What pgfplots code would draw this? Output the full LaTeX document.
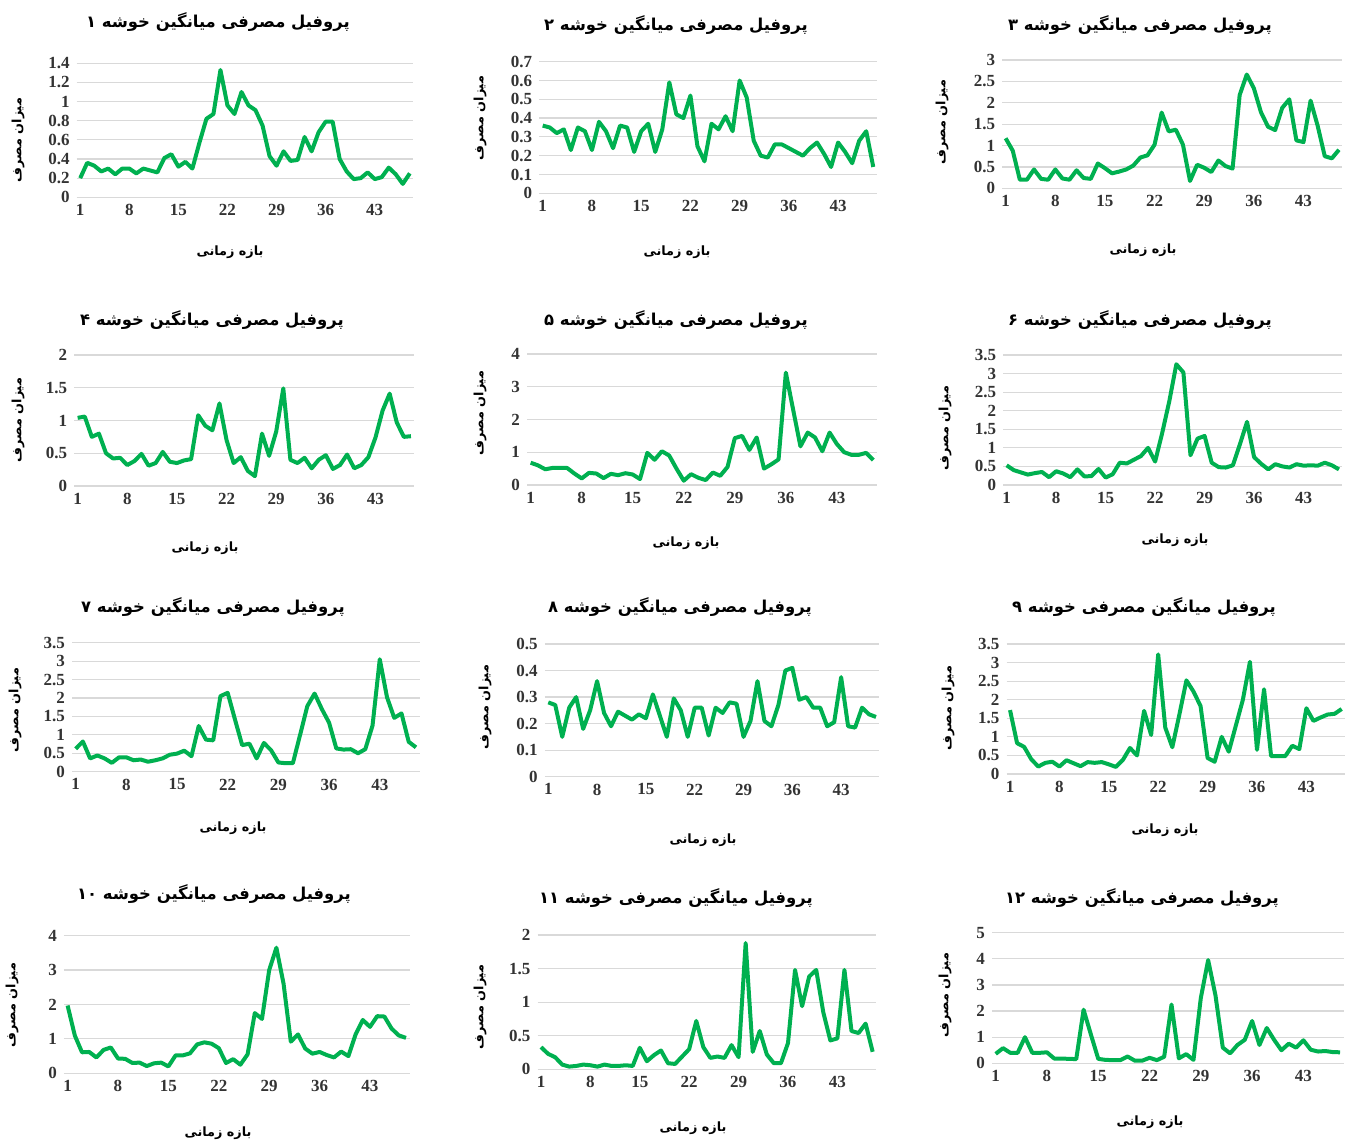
\documentclass[border=0pt]{standalone}
\usepackage{fontspec}
\usepackage{pgfplots}
\usepackage{pgfplotstable}
\pgfplotsset{compat=1.18}
\setmainfont{Liberation Serif}
\newfontfamily\fa[Script=Arabic]{DejaVu Sans}
\TeXXeTstate=1
\definecolor{lgreen}{HTML}{00B050}
\definecolor{gridc}{HTML}{D9D9D9}
\definecolor{tickc}{HTML}{333333}

\newcommand{\ftitle}{\fa\bfseries\fontsize{8.2}{8.2}\selectfont}
\newcommand{\flabel}{\fa\bfseries\fontsize{6.4}{6.4}\selectfont}

\pgfplotstableread{
i c1 c2 c3 c4 c5 c6 c7 c8 c9 c10 c11 c12
1 0.20 0.36 1.17 1.04 0.68 0.53 0.62 0.28 1.72 1.97 0.33 0.36
2 0.36 0.35 0.88 1.06 0.60 0.40 0.82 0.27 0.83 1.10 0.23 0.58
3 0.33 0.32 0.20 0.75 0.48 0.34 0.36 0.15 0.73 0.61 0.18 0.40
4 0.27 0.34 0.20 0.80 0.52 0.28 0.44 0.26 0.40 0.62 0.07 0.40
5 0.30 0.23 0.44 0.50 0.52 0.32 0.36 0.30 0.20 0.46 0.04 1.00
6 0.24 0.35 0.22 0.42 0.52 0.35 0.24 0.18 0.30 0.68 0.05 0.40
7 0.30 0.33 0.20 0.43 0.35 0.21 0.39 0.25 0.33 0.75 0.07 0.40
8 0.30 0.23 0.44 0.32 0.20 0.37 0.39 0.36 0.20 0.43 0.06 0.42
9 0.25 0.38 0.23 0.38 0.37 0.31 0.31 0.24 0.37 0.42 0.04 0.18
10 0.30 0.33 0.20 0.49 0.35 0.21 0.33 0.19 0.29 0.30 0.07 0.18
11 0.28 0.24 0.42 0.31 0.21 0.42 0.27 0.245 0.21 0.31 0.05 0.17
12 0.26 0.36 0.24 0.35 0.34 0.23 0.31 0.23 0.32 0.21 0.05 0.16
13 0.41 0.35 0.22 0.52 0.30 0.24 0.36 0.215 0.30 0.29 0.06 2.05
14 0.45 0.22 0.58 0.37 0.36 0.43 0.46 0.235 0.32 0.31 0.05 1.10
15 0.32 0.33 0.47 0.35 0.32 0.20 0.49 0.22 0.26 0.20 0.32 0.17
16 0.37 0.37 0.35 0.39 0.18 0.29 0.57 0.31 0.19 0.52 0.12 0.13
17 0.30 0.22 0.39 0.41 0.98 0.60 0.42 0.23 0.38 0.52 0.21 0.12
18 0.57 0.34 0.44 1.08 0.77 0.58 1.24 0.15 0.70 0.58 0.28 0.12
19 0.82 0.59 0.53 0.92 1.03 0.68 0.87 0.295 0.50 0.84 0.09 0.26
20 0.87 0.42 0.72 0.85 0.90 0.78 0.85 0.25 1.70 0.90 0.08 0.10
21 1.33 0.40 0.77 1.26 0.50 1.00 2.05 0.15 1.05 0.86 0.19 0.10
22 0.96 0.52 1.02 0.70 0.13 0.63 2.14 0.26 3.22 0.73 0.30 0.21
23 0.87 0.25 1.77 0.35 0.33 1.40 1.42 0.26 1.25 0.30 0.72 0.12
24 1.10 0.17 1.33 0.44 0.22 2.25 0.72 0.155 0.72 0.41 0.33 0.25
25 0.96 0.37 1.37 0.23 0.15 3.25 0.76 0.26 1.60 0.25 0.17 2.25
26 0.91 0.34 1.02 0.15 0.38 3.03 0.36 0.24 2.52 0.55 0.19 0.19
27 0.75 0.41 0.17 0.80 0.28 0.80 0.78 0.28 2.22 1.75 0.17 0.35
28 0.43 0.33 0.55 0.46 0.55 1.25 0.58 0.275 1.83 1.58 0.36 0.13
29 0.33 0.60 0.48 0.83 1.43 1.32 0.25 0.15 0.43 3.00 0.18 2.50
30 0.48 0.51 0.38 1.49 1.50 0.60 0.23 0.21 0.33 3.65 1.88 3.95
31 0.38 0.28 0.65 0.40 1.07 0.48 0.23 0.36 1.00 2.60 0.26 2.60
32 0.39 0.20 0.52 0.35 1.45 0.47 1.00 0.21 0.60 0.92 0.57 0.60
33 0.63 0.19 0.46 0.43 0.50 0.53 1.78 0.19 1.30 1.13 0.22 0.38
34 0.48 0.26 2.18 0.27 0.63 1.10 2.12 0.27 2.00 0.72 0.09 0.70
35 0.68 0.26 2.66 0.40 0.78 1.70 1.70 0.40 3.02 0.57 0.09 0.90
36 0.79 0.24 2.34 0.47 3.43 0.75 1.33 0.41 0.65 0.62 0.39 1.62
37 0.79 0.22 1.78 0.26 2.30 0.57 0.63 0.29 2.28 0.53 1.48 0.70
38 0.40 0.20 1.44 0.32 1.18 0.42 0.60 0.30 0.48 0.46 0.94 1.35
39 0.27 0.24 1.36 0.48 1.60 0.56 0.61 0.26 0.48 0.63 1.38 0.90
40 0.19 0.27 1.88 0.27 1.45 0.50 0.50 0.26 0.48 0.50 1.48 0.50
41 0.20 0.21 2.08 0.32 1.03 0.47 0.61 0.19 0.76 1.13 0.85 0.75
42 0.26 0.14 1.12 0.44 1.60 0.56 1.25 0.205 0.67 1.55 0.43 0.60
43 0.19 0.27 1.08 0.74 1.25 0.52 3.05 0.375 1.77 1.35 0.46 0.88
44 0.21 0.22 2.05 1.15 1.00 0.53 2.02 0.19 1.43 1.66 1.48 0.52
45 0.31 0.16 1.46 1.41 0.92 0.52 1.46 0.185 1.52 1.65 0.57 0.45
46 0.24 0.28 0.75 0.97 0.92 0.60 1.58 0.26 1.60 1.30 0.54 0.47
47 0.14 0.33 0.70 0.75 0.98 0.53 0.81 0.235 1.62 1.10 0.68 0.43
48 0.25 0.14 0.90 0.76 0.76 0.42 0.66 0.225 1.75 1.03 0.26 0.42
}\data

\pgfplotsset{clus/.style={
  scale only axis, anchor=south west,
  xmin=0.5, xmax=48.5, ymin=0,
  xtick={1,8,15,22,29,36,43},
  axis line style={draw=none}, major tick length=0pt,
  ymajorgrids, grid style={gridc, line width=0.6pt},
  tick label style={font=\bfseries\fontsize{8.5}{9}\selectfont, text=tickc},
  /pgf/number format/assume math mode=true,
  clip=false,
}}

% #1 x, #2 y, #3 width, #4 height, #5 ymax, #6 yticks, #7 column
\newcommand{\clusterplot}[7]{%
  \begin{axis}[clus, at={(#1pt,#2pt)}, width=#3pt, height=#4pt, ymax=#5, ytick={#6}]
    \addplot[lgreen, line width=2pt, line join=round] table[x=i, y=#7] {\data};
  \end{axis}}

\begin{document}
\begin{tikzpicture}
\useasboundingbox (0,0) rectangle (673pt,572.5pt);

\clusterplot{38.35}{473.85}{168.3}{67}{1.4}{0,0.2,0.4,0.6,0.8,1,1.2,1.4}{c1}
\clusterplot{269.6}{475.85}{168.8}{65.8}{0.7}{0,0.1,0.2,0.3,0.4,0.5,0.6,0.7}{c2}
\clusterplot{501.05}{478.35}{170.2}{64.15}{3}{0,0.5,1,1.5,2,2.5,3}{c3}
\clusterplot{37.05}{329.5}{170.2}{65.5}{2}{0,0.5,1,1.5,2}{c4}
\clusterplot{263.5}{330}{175}{65.5}{4}{0,1,2,3,4}{c5}
\clusterplot{501.55}{330}{169.7}{65}{3.5}{0,0.5,1,1.5,2,2.5,3,3.5}{c6}
\clusterplot{36}{186.65}{173.8}{64.5}{3.5}{0,0.5,1,1.5,2,2.5,3,3.5}{c7}
\clusterplot{272.4}{184.15}{167.35}{66.35}{0.5}{0,0.1,0.2,0.3,0.4,0.5}{c8}
\clusterplot{503.25}{185.5}{169.35}{65}{3.5}{0,0.5,1,1.5,2,2.5,3,3.5}{c9}
\clusterplot{32}{35.85}{172.8}{68.8}{4}{0,1,2,3,4}{c10}
\clusterplot{268.75}{37.85}{169.35}{67.15}{2}{0,0.5,1,1.5,2}{c11}
\clusterplot{496}{40.85}{175.85}{65.3}{5}{0,1,2,3,4,5}{c12}

% titles
\node at (109pt,561.5pt) {\ftitle\beginR پروفیل مصرفی میانگین خوشه ۱\endR};
\node at (338pt,560pt) {\ftitle\beginR پروفیل مصرفی میانگین خوشه ۲\endR};
\node at (570pt,560pt) {\ftitle\beginR پروفیل مصرفی میانگین خوشه ۳\endR};
\node at (106pt,412.5pt) {\ftitle\beginR پروفیل مصرفی میانگین خوشه ۴\endR};
\node at (338pt,412.5pt) {\ftitle\beginR پروفیل مصرفی میانگین خوشه ۵\endR};
\node at (570pt,412.5pt) {\ftitle\beginR پروفیل مصرفی میانگین خوشه ۶\endR};
\node at (106.5pt,269pt) {\ftitle\beginR پروفیل مصرفی میانگین خوشه ۷\endR};
\node at (340pt,269pt) {\ftitle\beginR پروفیل مصرفی میانگین خوشه ۸\endR};
\node at (572pt,269pt) {\ftitle\beginR پروفیل میانگین مصرفی خوشه ۹\endR};
\node at (107pt,125.5pt) {\ftitle\beginR پروفیل مصرفی میانگین خوشه \beginL ۱۰\endL\endR};
\node at (338pt,123.5pt) {\ftitle\beginR پروفیل میانگین مصرفی خوشه \beginL ۱۱\endL\endR};
\node at (571pt,123.5pt) {\ftitle\beginR پروفیل مصرفی میانگین خوشه \beginL ۱۲\endL\endR};

% x labels
\foreach \x/\y in {115/446.5, 338.5/446.5, 571.5/447.5, 102.5/298.5, 343/301, 587.5/302.5,
                   116.5/158.5, 351.5/152.5, 582.5/157.5, 109/6, 346.5/8.5, 575/11.5}
  \node at (\x pt,\y pt) {\flabel\beginR بازه زمانی\endR};

% y labels
\foreach \x/\y in {9/502.5, 240/513.5, 471/511.5, 9/362.5, 240/366, 472.5/358.5,
                   7.5/217.5, 242.5/219, 474/218.5, 6/70, 240/69, 472.5/75}
  \node[rotate=90] at (\x pt,\y pt) {\flabel\beginR میزان مصرف\endR};
\end{tikzpicture}
\end{document}
